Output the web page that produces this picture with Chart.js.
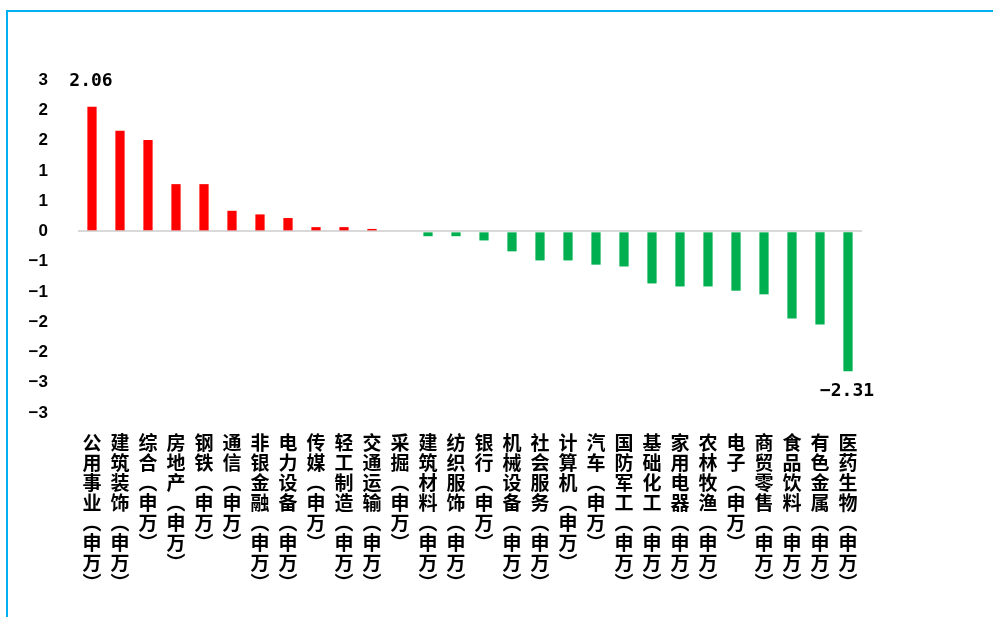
<!DOCTYPE html>
<html>
<head>
<meta charset="utf-8">
<script src="https://cdn.jsdelivr.net/npm/chart.js@4.4.1/dist/chart.umd.min.js"></script>
<style>
  html, body { margin: 0; padding: 0; background: #fff; overflow: hidden; }
  #wrap { position: relative; width: 993px; height: 617px; }
  #frame { position: absolute; left: 6px; top: 10px; width: 1100px; height: 700px;
           border-left: 2px solid #00B0F0; border-top: 2px solid #00B0F0; box-sizing: border-box; }
  canvas { position: absolute; left: 0; top: 0; }
</style>
</head>
<body>
<div id="wrap">
  <div id="frame"></div>
  <canvas id="c" width="993" height="617"></canvas>
</div>
<script>
const categories = ['公用事业(申万)','建筑装饰(申万)','综合(申万)','房地产(申万)','钢铁(申万)','通信(申万)','非银金融(申万)','电力设备(申万)','传媒(申万)','轻工制造(申万)','交通运输(申万)','采掘(申万)','建筑材料(申万)','纺织服饰(申万)','银行(申万)','机械设备(申万)','社会服务(申万)','计算机(申万)','汽车(申万)','国防军工(申万)','基础化工(申万)','家用电器(申万)','农林牧渔(申万)','电子(申万)','商贸零售(申万)','食品饮料(申万)','有色金属(申万)','医药生物(申万)'];
const values = [2.06, 1.66, 1.51, 0.78, 0.78, 0.34, 0.28, 0.22, 0.07, 0.07, 0.04, 0.00, -0.08, -0.08, -0.15, -0.33, -0.48, -0.48, -0.55, -0.58, -0.86, -0.91, -0.91, -0.98, -1.04, -1.44, -1.54, -2.31];
const yTickValues = [2.5, 2.0, 1.5, 1.0, 0.5, 0, -0.5, -1.0, -1.5, -2.0, -2.5, -3.0];
const labeledIndices = [0, values.length - 1];

const posColor = '#FF0000';
const negColor = '#00B050';

function roundLabel(v) {
  const r = Math.sign(v) * Math.round(Math.abs(v));
  if (r === 0) return '0';
  return r < 0 ? '\u2212' + Math.abs(r) : String(r);
}
function verticalLabel(s) {
  return Array.from(s).map(ch => ch === '(' ? '\uFE35' : ch === ')' ? '\uFE36' : ch);
}

const labelPlugin = {
  id: 'endLabels',
  afterDatasetsDraw(chart) {
    const ctx = chart.ctx;
    const meta = chart.getDatasetMeta(0);
    ctx.save();
    ctx.font = 'bold 18px "DejaVu Sans Mono"';
    ctx.fillStyle = '#000';
    ctx.textAlign = 'center';
    ctx.textBaseline = 'middle';
    labeledIndices.forEach(i => {
      const el = meta.data[i];
      const v = values[i];
      const txt = (v < 0 ? '\u2212' : '') + Math.abs(v).toFixed(2);
      const y = v >= 0 ? el.y - 25 : el.y + 20;
      ctx.fillText(txt, el.x - 1, y);
    });
    ctx.restore();
  }
};

new Chart(document.getElementById('c'), {
  type: 'bar',
  data: {
    labels: categories,
    datasets: [{
      data: values,
      backgroundColor: values.map(v => v >= 0 ? posColor : negColor),
      borderWidth: 0,
      barPercentage: 0.66,
      categoryPercentage: 0.5
    }]
  },
  options: {
    responsive: false,
    animation: false,
    layout: { padding: { top: 80, right: 131, bottom: 0, left: 0 } },
    plugins: { legend: { display: false }, tooltip: { enabled: false } },
    scales: {
      x: {
        grid: { display: false, drawTicks: false },
        border: { display: false },
        afterFit(scale) { scale.height = 204; },
        ticks: {
          autoSkip: false,
          maxRotation: 0,
          minRotation: 0,
          padding: 20,
          color: '#000',
          font: { family: '"Noto Sans CJK SC"', size: 19, weight: 'bold', lineHeight: '20px' },
          callback(value, index) { return verticalLabel(categories[index]); }
        }
      },
      y: {
        min: -3,
        max: 2.5,
        afterFit(scale) { scale.width = 78; },
        afterBuildTicks(scale) { scale.ticks = yTickValues.map(v => ({ value: v })); },
        border: { display: false },
        grid: {
          drawTicks: false,
          lineWidth: 2,
          color(ctx) { return ctx.tick && ctx.tick.value === 0 ? '#D9D9D9' : 'rgba(0,0,0,0)'; }
        },
        ticks: {
          padding: 30,
          color: '#000',
          font: { family: '"Liberation Sans"', size: 17, weight: 'bold' },
          callback(value) { return roundLabel(value); }
        }
      }
    }
  },
  plugins: [labelPlugin]
});
</script>
</body>
</html>
